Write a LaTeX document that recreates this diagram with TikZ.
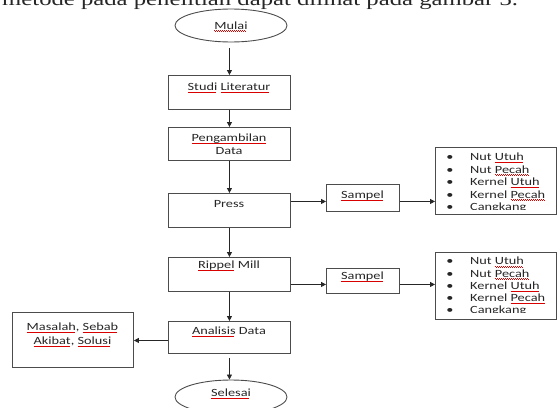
\documentclass[tikz,border=0pt]{standalone}
\usepackage{fontspec}
\setmainfont{Carlito}[FakeStretch=1.3]
\newfontfamily\docserif{Liberation Serif}[FakeStretch=1.3]
\usetikzlibrary{arrows.meta,shapes.geometric}
\newcommand\sq[1]{\setbox0=\hbox{#1}\rlap{\textcolor{red!85!black}{\lower2.4pt\hbox to \wd0{\leaders\hbox to 2pt{\rule[0.6pt]{1pt}{0.45pt}\rule{1pt}{0.45pt}}\hfill}}}\box0\relax}
\tikzset{
  box/.style={draw=black!70, line width=0.9pt, inner sep=0pt, anchor=north west},
  oval/.style={draw=black!70, line width=0.9pt, ellipse, inner sep=0pt},
  lbl/.style={anchor=base, inner sep=0pt, font=\fontsize{11}{12.5}\selectfont, text=black!85},
  itm/.style={anchor=base west, inner sep=0pt, font=\fontsize{11}{12.5}\selectfont, text=black!85},
  arr/.style={draw=black!85, line width=0.8pt, -{Triangle[length=5pt,width=5pt]}},
}
\begin{document}
\begin{tikzpicture}[x=1pt,y=-1pt]
\useasboundingbox (0,0) rectangle (559,407);
\clip (0,0) rectangle (559,407);
% clipped running text of the page
\node[anchor=base west, inner sep=0pt, font=\docserif\fontsize{19}{20}\selectfont, text=black!85] (top) at (2,5.5) {metode pada penelitian dapat dilihat pada gambar 3.};
% shapes
\node[oval, minimum width=112pt, minimum height=33pt] (mulai) at (231,25.5) {};
\node[box, minimum width=122pt, minimum height=34pt] (studi) at (168,75) {};
\node[box, minimum width=122pt, minimum height=33pt] (peng) at (168,127) {};
\node[box, minimum width=122pt, minimum height=34pt] (press) at (168,193) {};
\node[box, minimum width=122pt, minimum height=34pt] (rippel) at (168,257) {};
\node[box, minimum width=122pt, minimum height=32pt] (analisis) at (168,321) {};
\node[box, minimum width=73pt, minimum height=27pt] (samp1) at (326,184) {};
\node[box, minimum width=73pt, minimum height=25pt] (samp2) at (326,268) {};
\node[box, minimum width=121pt, minimum height=67pt] (list1) at (435,147) {};
\node[box, minimum width=121pt, minimum height=67pt] (list2) at (435,252) {};
\node[box, minimum width=121pt, minimum height=55pt] (masalah) at (12,312) {};
\node[oval, minimum width=112pt, minimum height=34pt] (selesai) at (231,397) {};
% labels
\node[lbl] (tmulai) at (231,29) {\sq{Mulai}};
\node[lbl] (tstudi) at (229,90.5) {\sq{Studi} \sq{Literatur}};
\node[lbl] (tpeng1) at (229,141.5) {\sq{Pengambilan}};
\node[lbl] (tpeng2) at (229,154.5) {Data};
\node[lbl] (tpress) at (229,207.5) {Press};
\node[lbl] (tsamp1) at (362.5,198.5) {\sq{Sampel}};
\node[lbl] (trippel) at (229,268.5) {\sq{Rippel} Mill};
\node[lbl] (tsamp2) at (362.5,279.5) {\sq{Sampel}};
\node[lbl] (tanalisis) at (229,334.5) {\sq{Analisis} Data};
\node[lbl] (tmas1) at (72.5,330.5) {\sq{Masalah}, \sq{Sebab}};
\node[lbl] (tmas2) at (72.5,344.5) {\sq{Akibat}, \sq{Solusi}};
\node[lbl] (tselesai) at (231,396.5) {\sq{Selesai}};
% lists
\begin{scope}
\clip (list1.north west) rectangle ([yshift=5.5pt]list1.south east);
\foreach \t [count=\i] in {Nut \sq{Utuh},Nut \sq{Pecah},Kernel \sq{Utuh},Kernel \sq{Pecah},Cangkang}{
  \node[lbl] (b1\i) at (450,148+12.5*\i) {\textbullet};
  \node[itm] (a1\i) at (470,148+12.5*\i) {\t};
}
\end{scope}
\begin{scope}
\clip (list2.north west) rectangle ([yshift=7.5pt]list2.south east);
\foreach \t [count=\i] in {Nut \sq{Utuh},Nut \sq{Pecah},Kernel \sq{Utuh},Kernel \sq{Pecah},Cangkang}{
  \node[lbl] (b2\i) at (450,252.5+12.25*\i) {\textbullet};
  \node[itm] (a2\i) at (470,252.5+12.25*\i) {\t};
}
\end{scope}
% connectors
\draw[arr, shorten <=6pt] (studi.north |- mulai.south) -- (studi.north);
\draw[arr] (studi.south) -- (peng.north);
\draw[arr] (peng.south) -- (press.north);
\draw[arr] (press.south) -- (rippel.north);
\draw[arr] (rippel.south) -- (analisis.north);
\draw[arr, shorten <=4pt] (analisis.south) -- (analisis.south |- selesai.north);
\draw[arr] ([yshift=9pt]press.east) -- ([yshift=-3.5pt]samp1.west);
\draw[arr] ([yshift=-3.5pt]samp1.east) -- ([yshift=-20.5pt]list1.west);
\draw[arr] ([yshift=-10pt]rippel.east) -- ([yshift=-3.5pt]samp2.west);
\draw[arr] ([yshift=-3.5pt]samp2.east) -- ([yshift=1.5pt]list2.west);
\draw[arr] ([yshift=-3pt]analisis.west) -- ([yshift=-0.5pt]masalah.east);
\end{tikzpicture}
\end{document}
